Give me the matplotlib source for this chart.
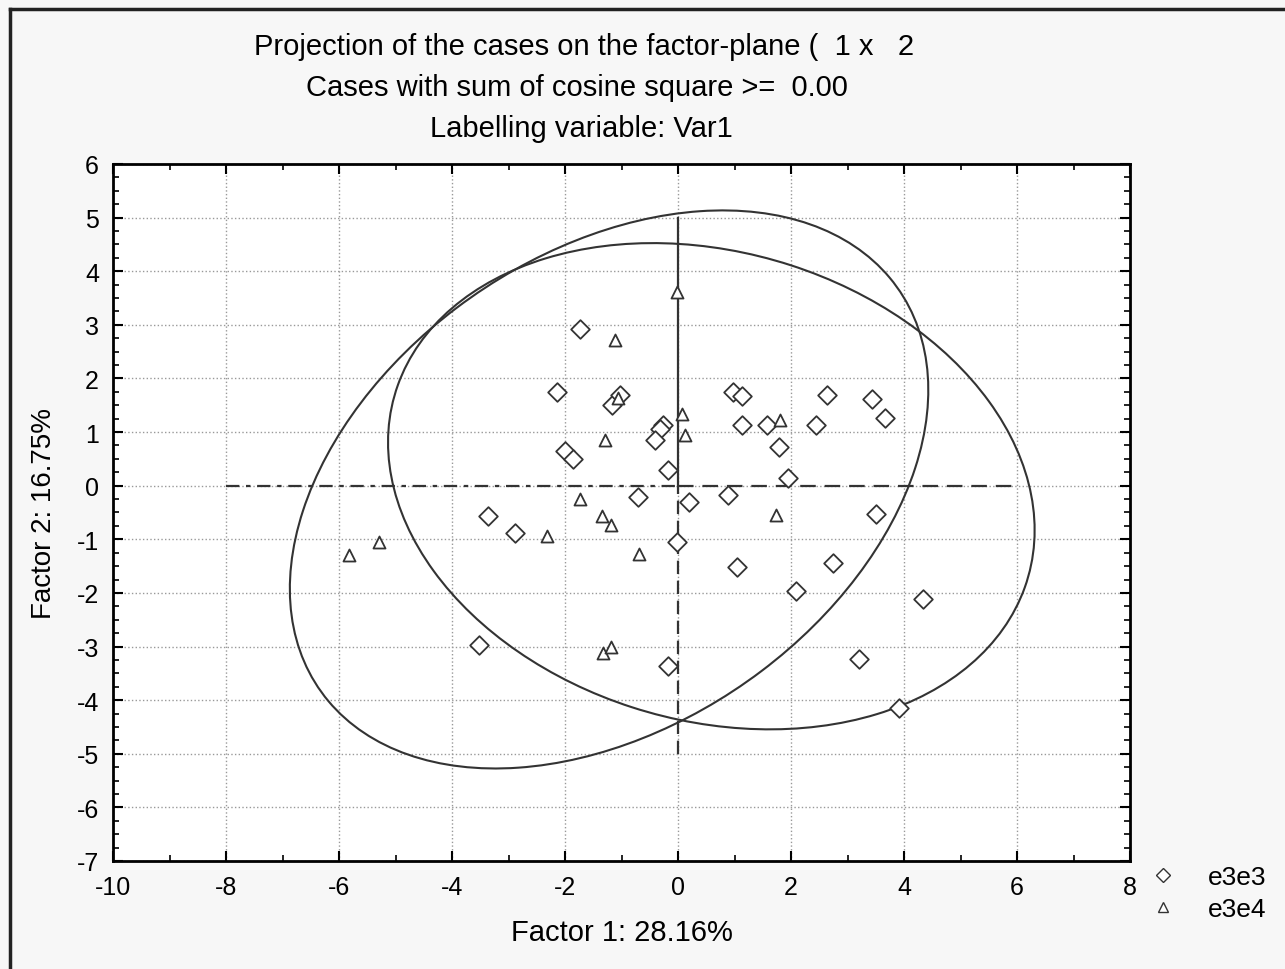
import numpy as np
import matplotlib
matplotlib.use("Agg")
import matplotlib.pyplot as plt
from matplotlib.patches import Ellipse
from matplotlib.lines import Line2D

plt.rcParams['font.family'] = ['Liberation Sans', 'DejaVu Sans']
plt.rcParams['axes.unicode_minus'] = False

# case coordinates on factor plane (Factor 1, Factor 2)
e3e3_x = [-1.73, -2.15, -1.17, -1.02, -0.26, -0.32, -0.41, -2.00, -1.85, -0.18,
          0.98, 1.13, 2.63, 3.44, 3.66, 1.13, 1.57, 2.45, 1.79, 1.95,
          -0.71, 0.19, 0.88, -3.36, -2.89, -0.01, 3.50, 1.04, 2.75, 2.08,
          4.33, 3.21, 3.92, -3.52, -0.18]
e3e3_y = [2.93, 1.74, 1.50, 1.70, 1.13, 1.06, 0.85, 0.64, 0.50, 0.30,
          1.75, 1.68, 1.69, 1.62, 1.26, 1.13, 1.13, 1.13, 0.72, 0.14,
          -0.21, -0.30, -0.17, -0.57, -0.88, -1.05, -0.52, -1.52, -1.44, -1.97,
          -2.11, -3.23, -4.15, -2.98, -3.36]

e3e4_x = [-0.02, -1.12, -1.07, 0.07, 0.13, -1.29, 1.80, -1.74, -1.35, -1.19,
          -2.32, -0.69, 1.73, -5.29, -5.82, -1.32, -1.19]
e3e4_y = [3.61, 2.71, 1.63, 1.34, 0.95, 0.85, 1.22, -0.25, -0.57, -0.74,
          -0.93, -1.27, -0.55, -1.05, -1.30, -3.12, -3.01]

# ellipses: center, width, height, angle
ell_center = [(-1.22, -0.07), (0.59, -0.01)]
ell_width = [12.69, 11.72]
ell_height = [8.66, 8.71]
ell_angle = [38.5, -18.8]

title_lines = ["Projection of the cases on the factor-plane (  1 x   2",
               "Cases with sum of cosine square >=  0.00",
               "Labelling variable: Var1"]

fig = plt.figure(figsize=(12.85, 9.7), dpi=100, facecolor='#f7f7f7')
ax = fig.add_axes([113/1285, 1-862/970, 1017/1285, 697/970])
ax.set_facecolor('white')

ax.set_xlim(-10, 8)
ax.set_ylim(-7, 6)
ax.set_xticks(np.arange(-10, 9, 2))
ax.set_xticks(np.arange(-10, 9, 1), minor=True)
ax.set_yticks(np.arange(-7, 7, 1))
ax.set_yticks(np.arange(-7, 6.01, 0.25), minor=True)
ax.tick_params(which='both', direction='in', top=True, right=True,
               labelsize=18, color='black', pad=10)
ax.tick_params(which='major', length=7, width=1.5)
ax.tick_params(which='minor', length=4, width=1.2)
ax.grid(True, which='major', linestyle=':', color='#999999', linewidth=1)
for s in ax.spines.values():
    s.set_linewidth(2)
ax.set_axisbelow(True)

# reference lines through origin
ax.plot([-8, 0], [0, 0], color='#333333', lw=1.6, ls=(0, (6, 3, 2, 3)))
ax.plot([0, 6], [0, 0], color='#333333', lw=1.6, ls=(0, (7, 4)))
ax.plot([0, 0], [0, 5], color='#333333', lw=1.6)
ax.plot([0, 0], [-5, 0], color='#333333', lw=1.6, ls=(0, (6, 3)))

for c, w, h, a in zip(ell_center, ell_width, ell_height, ell_angle):
    ax.add_patch(Ellipse(c, w, h, angle=a, fill=False, edgecolor='#333333', lw=1.5))

ax.scatter(e3e3_x, e3e3_y, marker='D', s=90, facecolors='white',
           edgecolors='#333333', linewidths=1.3, zorder=3)
ax.scatter(e3e4_x, e3e4_y, marker='^', s=75, facecolors='white',
           edgecolors='#333333', linewidths=1.3, zorder=3)

ax.set_xlabel("Factor 1: 28.16%", fontsize=21, labelpad=14)
ax.set_ylabel("Factor 2: 16.75%", fontsize=20, labelpad=14)

title_x = [584, 577, 581]
for i, t in enumerate(title_lines):
    fig.text(title_x[i]/1285, 1-(47 + i*41)/970, t, ha='center', va='center', fontsize=21)

handles = [Line2D([], [], marker='D', ls='none', markersize=7, markerfacecolor='white',
                  markeredgecolor='#333333', label='e3e3'),
           Line2D([], [], marker='^', ls='none', markersize=7, markerfacecolor='white',
                  markeredgecolor='#333333', label='e3e4')]
fig.legend(handles=handles, loc='center left', bbox_to_anchor=(1150/1285, 1-894/970),
           frameon=False, fontsize=19, handlelength=1.0, handletextpad=1.2,
           labelspacing=0.3, borderaxespad=0, borderpad=0)

# outer frame
fig.add_artist(Line2D([10/1285, 10/1285], [0, 1-10/970], color='#222222', lw=2.5))
fig.add_artist(Line2D([10/1285, 1], [1-10/970, 1-10/970], color='#222222', lw=2.5))

fig.savefig("out.png", dpi=100, facecolor=fig.get_facecolor())
